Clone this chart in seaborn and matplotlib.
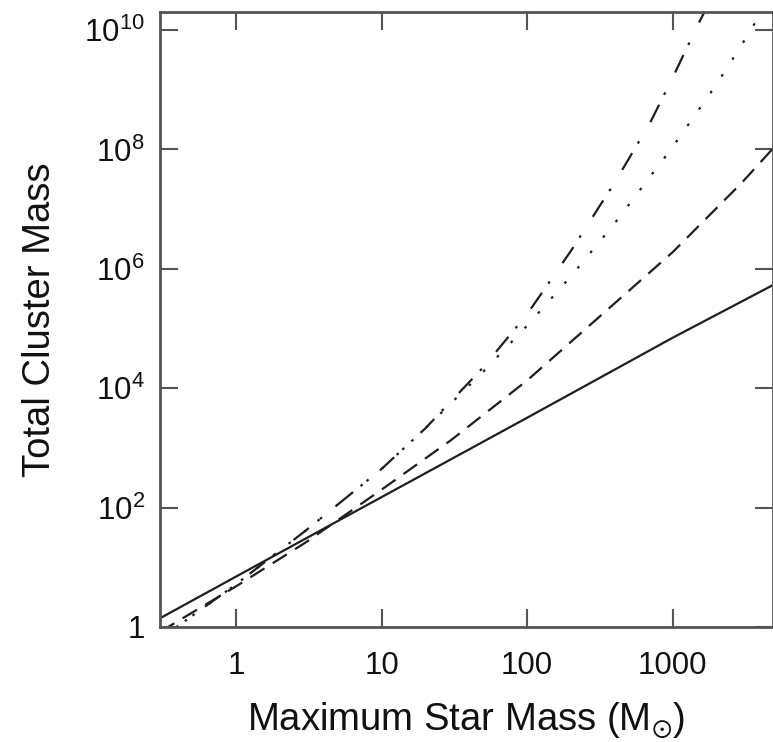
import matplotlib
matplotlib.use("Agg")
import matplotlib.pyplot as plt
from matplotlib.ticker import NullLocator
import seaborn as sns

# ---- data ----
solid_x = [0.3, 1, 10, 100, 1000, 5000]
solid_y = [1.4, 7.0, 150, 3200, 7.0e4, 5.5e5]

dashed_x = [0.3, 1, 3, 10, 30, 100, 300, 1000, 3000, 5000]
dashed_y = [0.83, 4.8, 26, 200, 1350, 1.35e4, 1.43e5, 1.9e6, 2.8e7, 1.1e8]

dotted_x = [0.3, 1, 3, 10, 20, 50, 100, 200, 400, 700, 1000, 2000, 3000, 5000]
dotted_y = [0.63, 5.2, 41, 445, 2130, 1.9e4, 1.12e5, 7.5e5, 5.8e6, 3.5e7,
            1.1e8, 1.23e9, 5.8e9, 4.5e10]

dashdot_x = [0.3, 1, 3, 10, 20, 50, 100, 200, 400, 700, 1000, 1500, 2000]
dashdot_y = [0.63, 5.2, 41, 445, 2130, 2.25e4, 1.74e5, 2.0e6, 2.8e7, 2.8e8,
             1.6e9, 1.26e10, 5.0e10]

x_ticks = [1, 10, 100, 1000]
x_ticklabels = ["1", "10", "100", "1000"]
y_ticks = [1, 1e2, 1e4, 1e6, 1e8, 1e10]
y_ticklabels = ["1", r"$10^{2}$", r"$10^{4}$", r"$10^{6}$", r"$10^{8}$", r"$10^{10}$"]

# ---- style ----
sns.set_theme(style="ticks")
plt.rcParams["font.family"] = ["Liberation Sans", "DejaVu Sans"]
plt.rcParams["mathtext.fontset"] = "custom"
plt.rcParams["mathtext.rm"] = "Liberation Sans"
plt.rcParams["mathtext.it"] = "Liberation Sans:italic"
plt.rcParams["mathtext.bf"] = "Liberation Sans:bold"
plt.rcParams["mathtext.fallback"] = "stixsans"
plt.rcParams["lines.scale_dashes"] = False

TICK_FS = 22.5
LABEL_FS = 27.5
fig = plt.figure(figsize=(7.73, 7.42), dpi=100)
ax = fig.add_axes([160 / 773, 115 / 742, 612.5 / 773, 615 / 742])
ax.set_xscale("log")
ax.set_yscale("log")

lc = "#1e1e1e"
lw = 1.6
common = dict(ax=ax, color=lc, linewidth=lw, estimator=None, sort=False, legend=False)
sns.lineplot(x=solid_x, y=solid_y, linestyle="-", **common)
sns.lineplot(x=dashed_x, y=dashed_y, linestyle=(0, (12, 7)), **common)
sns.lineplot(x=dotted_x, y=dotted_y, linestyle=(0, (1.9, 12.5)), **common)
sns.lineplot(x=dashdot_x, y=dashdot_y, linestyle=(0, (14, 8, 1.9, 16)), **common)

ax.set_xlim(0.3, 4850)
ax.set_ylim(1, 2.0e10)
ax.set_xticks(x_ticks, labels=x_ticklabels)
ax.set_yticks(y_ticks, labels=y_ticklabels)
ax.xaxis.set_minor_locator(NullLocator())
ax.yaxis.set_minor_locator(NullLocator())

spc = "#555555"
for s in ax.spines.values():
    s.set_color(spc)
    s.set_linewidth(2.0)
ax.tick_params(which="major", direction="in", length=13, width=1.5, color=spc,
               top=True, right=True, labelsize=TICK_FS, labelcolor="#111111")
ax.tick_params(axis="x", pad=17)
ax.tick_params(axis="y", pad=11)

ax.set_xlabel(r"Maximum Star Mass (M$_{\odot}$)", fontsize=LABEL_FS, color="#111111",
              va="baseline")
ax.set_ylabel("Total Cluster Mass", fontsize=LABEL_FS, color="#111111",
              va="baseline")
ax.xaxis.set_label_coords(0.5, (627 - 731) / 615)
ax.yaxis.set_label_coords((50 - 160) / 612.5, 0.5)
ax.grid(False)

fig.savefig("out.png", dpi=100)
